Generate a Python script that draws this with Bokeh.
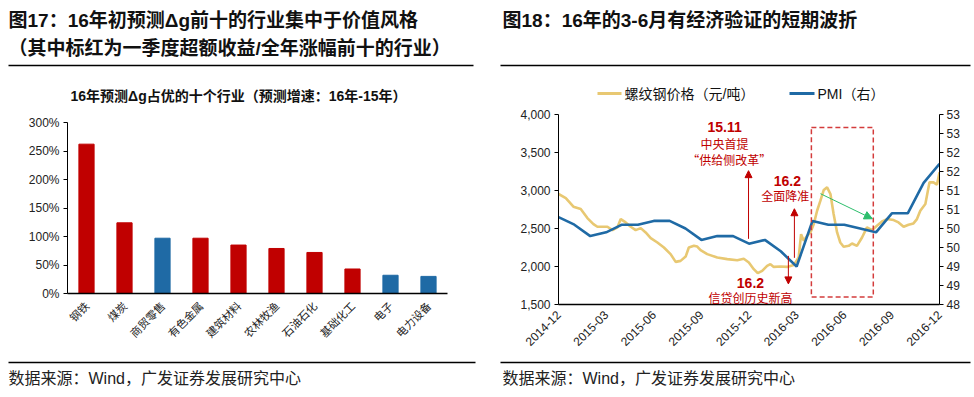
import math
from bokeh.plotting import figure
from bokeh.layouts import row, column
from bokeh.models import (ColumnDataSource, Range1d, LinearAxis, FactorRange, Label, Arrow,
                          NormalHead, BoxAnnotation, FixedTicker)
from bokeh.core.properties import value
from bokeh.embed import file_html
from bokeh.resources import INLINE

# ---------------- data: left chart ----------------
industries = ["钢铁", "煤炭", "商贸零售", "有色金属", "建筑材料", "农林牧渔", "石油石化", "基础化工", "电子", "电力设备"]
growth_pct = [262, 124, 97, 97, 85, 79, 72, 43, 32, 30]
highlighted = [True, True, False, True, True, True, True, True, False, False]
pct_ticks = [0, 50, 100, 150, 200, 250, 300]
pct_tick_labels = ["0%", "50%", "100%", "150%", "200%", "250%", "300%"]

# ---------------- data: right chart ----------------
month_ticks = [0, 3, 6, 9, 12, 15, 18, 21, 24]
month_tick_labels = ["2014-12", "2015-03", "2015-06", "2015-09", "2015-12",
                     "2016-03", "2016-06", "2016-09", "2016-12"]
pmi_month = list(range(25))
pmi = [50.3, 50.1, 49.8, 49.9, 50.1, 50.1, 50.2, 50.2, 50.0, 49.7, 49.8, 49.8, 49.6,
       49.7, 49.4, 49.0, 50.2, 50.1, 50.1, 50.0, 49.9, 50.4, 50.4, 51.2, 51.7]
rebar_month = [0.0, 0.46, 0.94, 1.40, 1.82, 2.20, 2.45, 3.08, 3.40, 3.71, 3.92, 4.23, 4.55,
               4.86, 5.18, 5.49, 5.81, 6.23, 6.64, 7.06, 7.38, 7.69, 8.01, 8.21, 8.53, 8.74,
               8.95, 9.37, 10.0, 10.63, 11.26, 11.67, 11.99, 12.30, 12.55, 12.83, 13.14, 13.35,
               13.56, 13.98, 14.40, 14.82, 15.13, 15.28, 15.45, 15.66, 15.87, 16.08, 16.29,
               16.50, 16.71, 16.92, 17.13, 17.33, 17.55, 17.75, 17.96, 18.28, 18.49, 18.80,
               19.12, 19.43, 19.75, 20.06, 20.38, 20.69, 21.11, 21.42, 21.74, 22.05, 22.36,
               22.58, 22.79, 23.11, 23.37, 23.62, 23.84, 24.0]
rebar_price = [2955, 2900, 2787, 2756, 2637, 2558, 2523, 2523, 2479, 2514, 2624, 2580, 2523,
               2479, 2505, 2448, 2374, 2316, 2250, 2163, 2061, 2074, 2130, 2250, 2272, 2263,
               2215, 2163, 2118, 2097, 2083, 2101, 2052, 1965, 1912, 1942, 2008, 2031,
               1995, 1999, 1995, 2021, 2118, 2426, 2338, 2404, 2448, 2558, 2734,
               2866, 3007, 3041, 2954, 2690, 2448, 2316, 2259, 2272, 2303, 2272,
               2382, 2514, 2479, 2536, 2593, 2624, 2611, 2580, 2523, 2549, 2567,
               2624, 2734, 2822, 3107, 3107, 3077, 3239]
price_ticks = [1500, 2000, 2500, 3000, 3500, 4000]
price_tick_labels = ["1,500", "2,000", "2,500", "3,000", "3,500", "4,000"]
pmi_ticks = [48, 48.5, 49, 49.5, 50, 50.5, 51, 51.5, 52, 52.5, 53]
pmi_tick_labels = ["48", "49", "49", "50", "50", "51", "51", "52", "52", "53", "53"]
legend_labels = ["螺纹钢价格（元/吨）", "PMI（右）"]

RED = "#C00000"
BLUE = "#1F6AA5"
GOLD = "#E8C872"
LAT = "Liberation Sans, Noto Sans CJK SC"
CJK = "Noto Sans CJK SC"

PW = 487          # width of each half
HEAD_H = 105      # header strip height
CHART_H = 250
FOOT_H = 42


def strip(height):
    """A blank figure whose data coordinates equal its pixel coordinates (y downwards)."""
    s = figure(width=PW, height=height, x_range=Range1d(0, PW), y_range=Range1d(height, 0),
               x_axis_type=None, y_axis_type=None, output_backend="svg", toolbar_location=None,
               min_border=0, min_border_left=0, min_border_right=0, min_border_top=0,
               min_border_bottom=0)
    s.outline_line_color = None
    s.xgrid.grid_line_color = None
    s.ygrid.grid_line_color = None
    s.background_fill_color = "white"
    s.border_fill_color = "white"
    return s


def stext(s, text, x, y, size, bold=False, color="#111111", align="left", font=LAT):
    s.text(x=[x], y=[y], text=[text], text_font=value(font), text_font_size=value(size),
           text_font_style="bold" if bold else "normal", text_color=color,
           text_align=align, text_baseline="middle")


def style_axis(ax, font=LAT, size="12px"):
    ax.axis_line_color = "#000000"
    ax.major_tick_line_color = "#000000"
    ax.major_tick_in = 0
    ax.major_tick_out = 4
    ax.minor_tick_line_color = None
    ax.major_label_text_font = font
    ax.major_label_text_font_size = size
    ax.major_label_text_color = "#222222"
    ax.major_label_standoff = 4


# ======================= LEFT HALF =======================
h1 = strip(HEAD_H)
stext(h1, "图17：16年初预测Δg前十的行业集中于价值风格", 8, 20, "19px", bold=True)
stext(h1, "（其中标红为一季度超额收益/全年涨幅前十的行业）", 8, 48, "19px", bold=True)
h1.segment(x0=[8], y0=[65], x1=[473], y1=[65], line_color="#000000", line_width=1.5)
stext(h1, "16年预测Δg占优的十个行业（预测增速：16年-15年）", 238, 95, "14px", bold=True,
      align="center")

src1 = ColumnDataSource(dict(ind=industries, val=growth_pct,
                             color=[RED if h else BLUE for h in highlighted]))
p1 = figure(width=PW, height=CHART_H, x_range=FactorRange(*industries), y_range=Range1d(0, 300),
            output_backend="svg", toolbar_location=None,
            min_border_left=67, min_border_right=40, min_border_top=17, min_border_bottom=62)
p1.vbar(x="ind", top="val", width=0.4, color="color", source=src1)
p1.outline_line_color = None
p1.xgrid.grid_line_color = None
p1.ygrid.grid_line_color = None
p1.background_fill_color = "white"
p1.border_fill_color = "white"

xa = p1.xaxis[0]
style_axis(xa, font=CJK, size="11px")
xa.axis_line_width = 1.5
xa.major_tick_line_color = None
xa.major_label_orientation = math.pi / 4
xa.major_label_standoff = 6

ya = p1.yaxis[0]
style_axis(ya)
ya.ticker = FixedTicker(ticks=pct_ticks)
ya.major_label_overrides = {t: l for t, l in zip(pct_ticks, pct_tick_labels)}

f1 = strip(FOOT_H)
f1.segment(x0=[8], y0=[7], x1=[475], y1=[7], line_color="#000000", line_width=1.5)
stext(f1, "数据来源：Wind，广发证券发展研究中心", 8, 23, "16px", color="#222222")

# ======================= RIGHT HALF =======================
h2 = strip(HEAD_H)
stext(h2, "图18：16年的3-6月有经济验证的短期波折", 15, 20, "19px", bold=True)
h2.segment(x0=[13], y0=[65], x1=[483], y1=[65], line_color="#000000", line_width=1.5)
# legend
h2.segment(x0=[110], y0=[93], x1=[134], y1=[93], line_color=GOLD, line_width=3)
stext(h2, legend_labels[0], 137, 93, "14px")
h2.segment(x0=[302], y0=[93], x1=[327], y1=[93], line_color=BLUE, line_width=3)
stext(h2, legend_labels[1], 330, 93, "14px")

p2 = figure(width=PW, height=CHART_H, x_range=Range1d(0, 24), y_range=Range1d(1500, 4000),
            output_backend="svg", toolbar_location=None,
            min_border_left=71, min_border_right=35, min_border_top=9, min_border_bottom=51)
p2.extra_y_ranges = {"pmi": Range1d(48, 53)}
p2.outline_line_color = None
p2.xgrid.grid_line_color = None
p2.ygrid.grid_line_color = None
p2.background_fill_color = "white"
p2.border_fill_color = "white"

p2.line(rebar_month, rebar_price, line_color=GOLD, line_width=2.6)
p2.line(pmi_month, pmi, y_range_name="pmi", line_color=BLUE, line_width=2.6)

xb = p2.xaxis[0]
style_axis(xb)
xb.axis_line_width = 1.5
xb.major_tick_line_color = None
xb.ticker = FixedTicker(ticks=month_ticks)
xb.major_label_overrides = {t: l for t, l in zip(month_ticks, month_tick_labels)}
xb.major_label_orientation = math.pi / 4

yb = p2.yaxis[0]
style_axis(yb)
yb.ticker = FixedTicker(ticks=price_ticks)
yb.major_label_overrides = {t: l for t, l in zip(price_ticks, price_tick_labels)}

yr = LinearAxis(y_range_name="pmi", ticker=FixedTicker(ticks=pmi_ticks),
                major_label_overrides={t: l for t, l in zip(pmi_ticks, pmi_tick_labels)})
style_axis(yr)
yr.major_label_standoff = 3
p2.add_layout(yr, "right")

# dashed box (Mar-Jul 2016)
p2.add_layout(BoxAnnotation(left=15.93, right=19.83, bottom=1600, top=3829,
                            fill_alpha=0, line_color="#D43C3C", line_alpha=1.0,
                            line_width=1.5, line_dash="5 3"))


def arrow(p, x0, y0, x1, y1, color=RED, size=7):
    p.add_layout(Arrow(x_start=x0, y_start=y0, x_end=x1, y_end=y1,
                       end=NormalHead(size=size, fill_color=color, line_color=color),
                       line_color=color, line_width=1))


arrow(p2, 11.97, 2364, 11.97, 3261)
arrow(p2, 14.86, 2114, 14.86, 2760)
arrow(p2, 14.48, 2140, 14.48, 1771)
arrow(p2, 16.5, 2958, 19.77, 2628, color="#2DBE6C", size=8)


def dlabel(p, text, x, y, size, bold=False, font=CJK):
    p.add_layout(Label(x=x, y=y, text=text, text_font=font, text_font_size=size,
                       text_font_style="bold" if bold else "normal", text_color=RED,
                       text_align="center", text_baseline="middle"))


dlabel(p2, "15.11", 10.46, 3829, "14px", bold=True, font=LAT)
dlabel(p2, "中央首提", 10.46, 3617, "12px")
dlabel(p2, "“供给侧改革”", 10.75, 3406, "12px")
dlabel(p2, "16.2", 14.42, 3129, "14px", bold=True, font=LAT)
dlabel(p2, "全面降准", 14.29, 2932, "12px")
dlabel(p2, "16.2", 12.09, 1784, "14px", bold=True, font=LAT)
dlabel(p2, "信贷创历史新高", 12.09, 1590, "12px")

f2 = strip(FOOT_H)
f2.segment(x0=[13], y0=[7], x1=[483], y1=[7], line_color="#000000", line_width=1.5)
stext(f2, "数据来源：Wind，广发证券发展研究中心", 15, 23, "16px", color="#222222")

# wrap the text strips in their own rows so the columns do not align their frames
# with the chart frames
layout = row(column(row(h1), p1, row(f1)), column(row(h2), p2, row(f2)))
open("out.html", "w").write(file_html(layout, INLINE))
